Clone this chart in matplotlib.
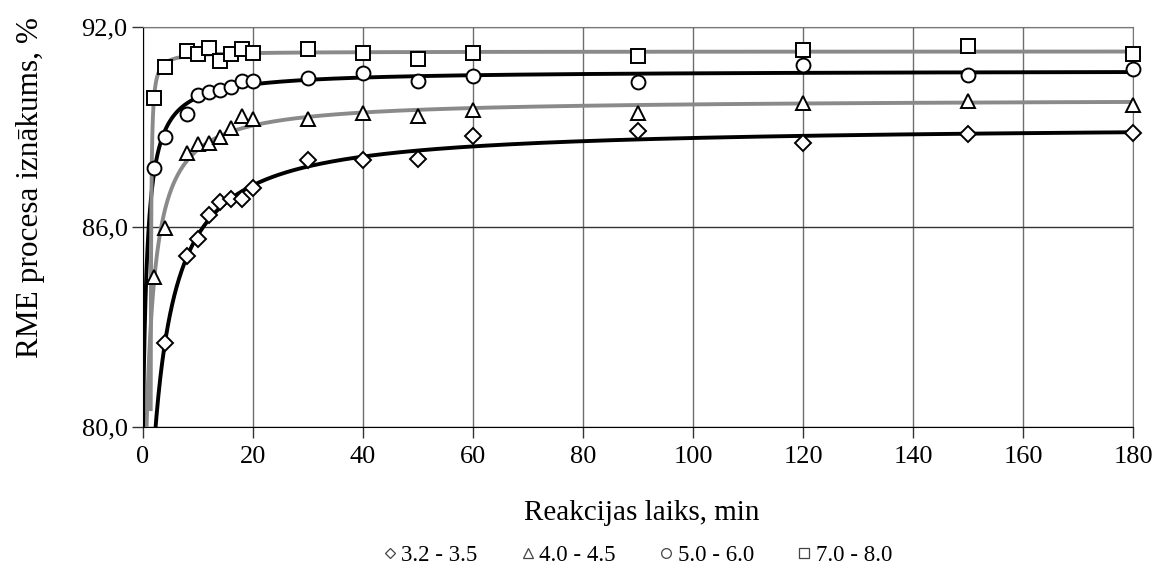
import numpy as np
import matplotlib.pyplot as plt
from matplotlib.lines import Line2D

plt.rcParams["font.family"] = ["Liberation Serif", "DejaVu Serif"]

# laiks, min
t_a = [4, 8, 10, 12, 14, 16, 18, 20, 30, 40, 50, 60, 90, 120, 150, 180]
t_b = [2, 4, 8, 10, 12, 14, 16, 18, 20, 30, 40, 50, 60, 90, 120, 150, 180]

# iznakums, %
y_32 = [82.52, 85.13, 85.63, 86.35, 86.73, 86.83, 86.83, 87.17, 88.00, 88.00,
        88.03, 88.72, 88.87, 88.50, 88.78, 88.80]
y_40 = [84.50, 85.95, 88.20, 88.48, 88.52, 88.70, 88.97, 89.32, 89.22, 89.22,
        89.40, 89.32, 89.50, 89.41, 89.72, 89.78, 89.65]
y_50 = [87.75, 88.70, 89.38, 89.95, 90.03, 90.10, 90.18, 90.37, 90.37, 90.47,
        90.60, 90.38, 90.52, 90.35, 90.85, 90.55, 90.72]
y_70 = [89.87, 90.80, 91.28, 91.17, 91.35, 90.98, 91.17, 91.32, 91.22, 91.32,
        91.22, 91.02, 91.20, 91.12, 91.30, 91.42, 91.18]

labels = ["3.2 - 3.5", "4.0 - 4.5", "5.0 - 6.0", "7.0 - 8.0"]
markers = ["D", "^", "o", "s"]
line_colors = ["black", "#8a8a8a", "black", "#8a8a8a"]
msizes = [8.5, 10, 10, 10]


# y = a - b/(x + c); c meklejam ar rezgi, liknei jasasniedz 80 pie x > 0
def fit_curve(x, y):
    x = np.array(x, dtype=float)
    y = np.array(y, dtype=float)
    best = None
    for c in np.linspace(-x.min() + 0.05, 15, 3000):
        A = np.column_stack([np.ones_like(x), -1.0 / (x + c)])
        coef = np.linalg.lstsq(A, y, rcond=None)[0]
        if c > 0 and coef[0] - coef[1] / c > 80:
            continue
        err = np.sum((A @ coef - y) ** 2)
        if best is None or err < best[0]:
            best = (err, coef[0], coef[1], c)
    return best[1], best[2], best[3]


def plot_series(ax, x, y, marker, lc, ms):
    a, b, c = fit_curve(x, y)
    xs = np.linspace(max(-c, 0) + 1e-4, 180, 6000)
    ys = a - b / (xs + c)
    keep = ys >= 79.0
    ax.plot(xs[keep], ys[keep], color=lc, lw=2.8, zorder=3)
    ax.plot(x, y, linestyle="none", marker=marker, ms=ms, mfc="white",
            mec="black", mew=1.4, zorder=4, clip_on=False)


fig = plt.figure(figsize=(11.57, 5.74), dpi=100)
ax = fig.add_axes([0.1236, 0.2566, 0.8557, 0.6969])

data = [(t_a, y_32), (t_b, y_40), (t_b, y_50), (t_b, y_70)]
for (x, y), m, lc, ms in zip(data, markers, line_colors, msizes):
    plot_series(ax, x, y, m, lc, ms)

ax.set_xlim(0, 180)
ax.set_ylim(80, 92)
ax.set_xticks(np.arange(0, 181, 20))
ax.set_yticks([80, 86, 92])
ax.set_yticklabels(["80,0", "86,0", "92,0"])
ax.tick_params(labelsize=19, length=8, width=1, direction="out", color="#333333")
ax.tick_params(axis="x", pad=6)
ax.tick_params(axis="y", pad=3)

ax.grid(True, axis="x", color="#6e6e6e", lw=1)
ax.grid(True, axis="y", color="#333333", lw=1)
ax.set_axisbelow(True)
for s in ["top", "right"]:
    ax.spines[s].set_color("#777777")
ax.spines["left"].set_color("black")
ax.spines["bottom"].set_color("black")

ax.set_xlabel("Reakcijas laiks, min", fontsize=21)
ax.xaxis.set_label_coords(0.504, -0.183)
ax.set_ylabel("RME procesa iznākums, %", fontsize=22.5)
ax.yaxis.set_label_coords(-0.099, 0.597)

handles = [Line2D([], [], linestyle="none", marker=m, ms=7 if m != "D" else 5.5,
                  mfc="white", mec="#444444", mew=0.9) for m in markers]
fig.legend(handles, labels, loc="center", bbox_to_anchor=(0.549, 0.032), ncol=4,
           frameon=False, fontsize=16.5, handletextpad=0.0, columnspacing=1.7,
           handlelength=1.0)

fig.savefig("out.png", dpi=100)
